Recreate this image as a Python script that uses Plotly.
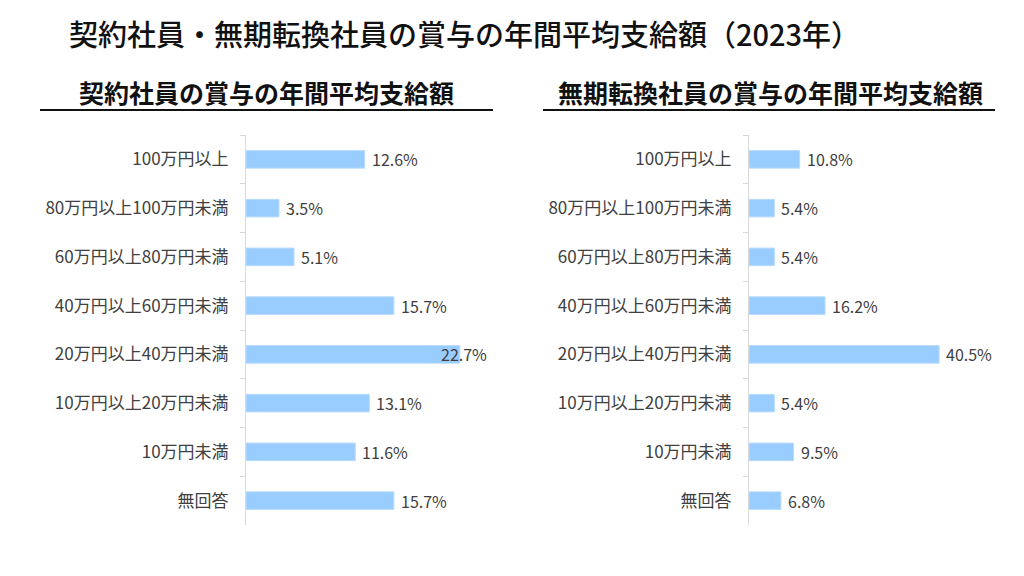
import plotly.graph_objects as go

categories = ["100万円以上", "80万円以上100万円未満", "60万円以上80万円未満", "40万円以上60万円未満",
              "20万円以上40万円未満", "10万円以上20万円未満", "10万円未満", "無回答"]
contract_values = [12.6, 3.5, 5.1, 15.7, 22.7, 13.1, 11.6, 15.7]
permanent_values = [10.8, 5.4, 5.4, 16.2, 40.5, 5.4, 9.5, 6.8]

main_title = "契約社員・無期転換社員の賞与の年間平均支給額（2023年）"
left_title = "契約社員の賞与の年間平均支給額"
right_title = "無期転換社員の賞与の年間平均支給額"

W, H = 1024, 576
FONT = "Noto Sans CJK JP"
TXT = "#404040"
BAR = "#99CCFF"
AX = "#D9D9D9"

left_dom = [246 / W, 489 / W]
right_dom = [749 / W, 995 / W]
y_dom = [1 - 525 / H, 1 - 135 / H]
left_range = [0, 25.8]
right_range = [0, 52.4]

fig = go.Figure()
fig.add_trace(go.Bar(x=contract_values, y=categories, orientation="h", xaxis="x", yaxis="y",
                     marker=dict(color=BAR, line=dict(color="#B8DCFF", width=1)), width=0.36,
                     hoverinfo="x+y", showlegend=False))
fig.add_trace(go.Bar(x=permanent_values, y=categories, orientation="h", xaxis="x2", yaxis="y2",
                     marker=dict(color=BAR, line=dict(color="#B8DCFF", width=1)), width=0.36,
                     hoverinfo="x+y", showlegend=False))

annotations = []


def add_labels(values, xref, yref, dom, rng):
    px_per_unit = (dom[1] - dom[0]) * W / (rng[1] - rng[0])
    for cat, v in zip(categories, values):
        text = f"{v:.1f}%"
        est_w = 8.8 * sum(c.isdigit() for c in text) + 4.3 + 13.6
        if v * px_per_unit + 6 + est_w > (rng[1] - rng[0]) * px_per_unit:
            annotations.append(dict(x=1, xref=xref + " domain", y=cat, yref=yref, text=text,
                                    xanchor="right", yanchor="middle", showarrow=False,
                                    font=dict(family=FONT, size=16, color=TXT)))
        else:
            annotations.append(dict(x=v, xref=xref, y=cat, yref=yref, text=text, xshift=5,
                                    xanchor="left", yanchor="middle", showarrow=False,
                                    font=dict(family=FONT, size=16, color=TXT)))


add_labels(contract_values, "x", "y", left_dom, left_range)
add_labels(permanent_values, "x2", "y2", right_dom, right_range)

annotations.append(dict(x=67 / W, y=1 - 33 / H, xref="paper", yref="paper", text=main_title,
                        xanchor="left", yanchor="middle", showarrow=False,
                        font=dict(family=FONT, size=29, color="#111111", weight=500)))
annotations.append(dict(x=266 / W, y=1 - 92 / H, xref="paper", yref="paper", text=left_title,
                        xanchor="center", yanchor="middle", showarrow=False,
                        font=dict(family=FONT, size=25, color="#111111", weight="bold")))
annotations.append(dict(x=770 / W, y=1 - 92 / H, xref="paper", yref="paper", text=right_title,
                        xanchor="center", yanchor="middle", showarrow=False,
                        font=dict(family=FONT, size=25, color="#111111", weight="bold")))

shapes = [
    dict(type="line", xref="paper", yref="paper", x0=40 / W, x1=493 / W, y0=1 - 110 / H, y1=1 - 110 / H,
         line=dict(color="#111111", width=2)),
    dict(type="line", xref="paper", yref="paper", x0=543 / W, x1=995 / W, y0=1 - 110 / H, y1=1 - 110 / H,
         line=dict(color="#111111", width=2)),
]

xaxis_common = dict(showgrid=False, zeroline=False, showticklabels=False, ticks="", showline=False,
                    fixedrange=True)
yaxis_common = dict(autorange="reversed", showgrid=False, zeroline=False, showline=True, linecolor=AX,
                    linewidth=1, ticks="outside", tickson="boundaries", ticklen=5, tickcolor=AX,
                    tickfont=dict(family=FONT, size=17, color=TXT), ticklabelstandoff=13,
                    type="category", fixedrange=True)

fig.update_layout(
    width=W, height=H, margin=dict(l=0, r=0, t=0, b=0),
    paper_bgcolor="white", plot_bgcolor="white",
    xaxis=dict(domain=left_dom, range=left_range, anchor="y", **xaxis_common),
    yaxis=dict(domain=y_dom, anchor="x", **yaxis_common),
    xaxis2=dict(domain=right_dom, range=right_range, anchor="y2", **xaxis_common),
    yaxis2=dict(domain=y_dom, anchor="x2", **yaxis_common),
    annotations=annotations, shapes=shapes, bargap=0.6,
    font=dict(family=FONT, color=TXT),
)

fig.write_html("out.html", config={"displayModeBar": False},
               post_script="document.body.style.margin='0';document.body.style.padding='0';")
